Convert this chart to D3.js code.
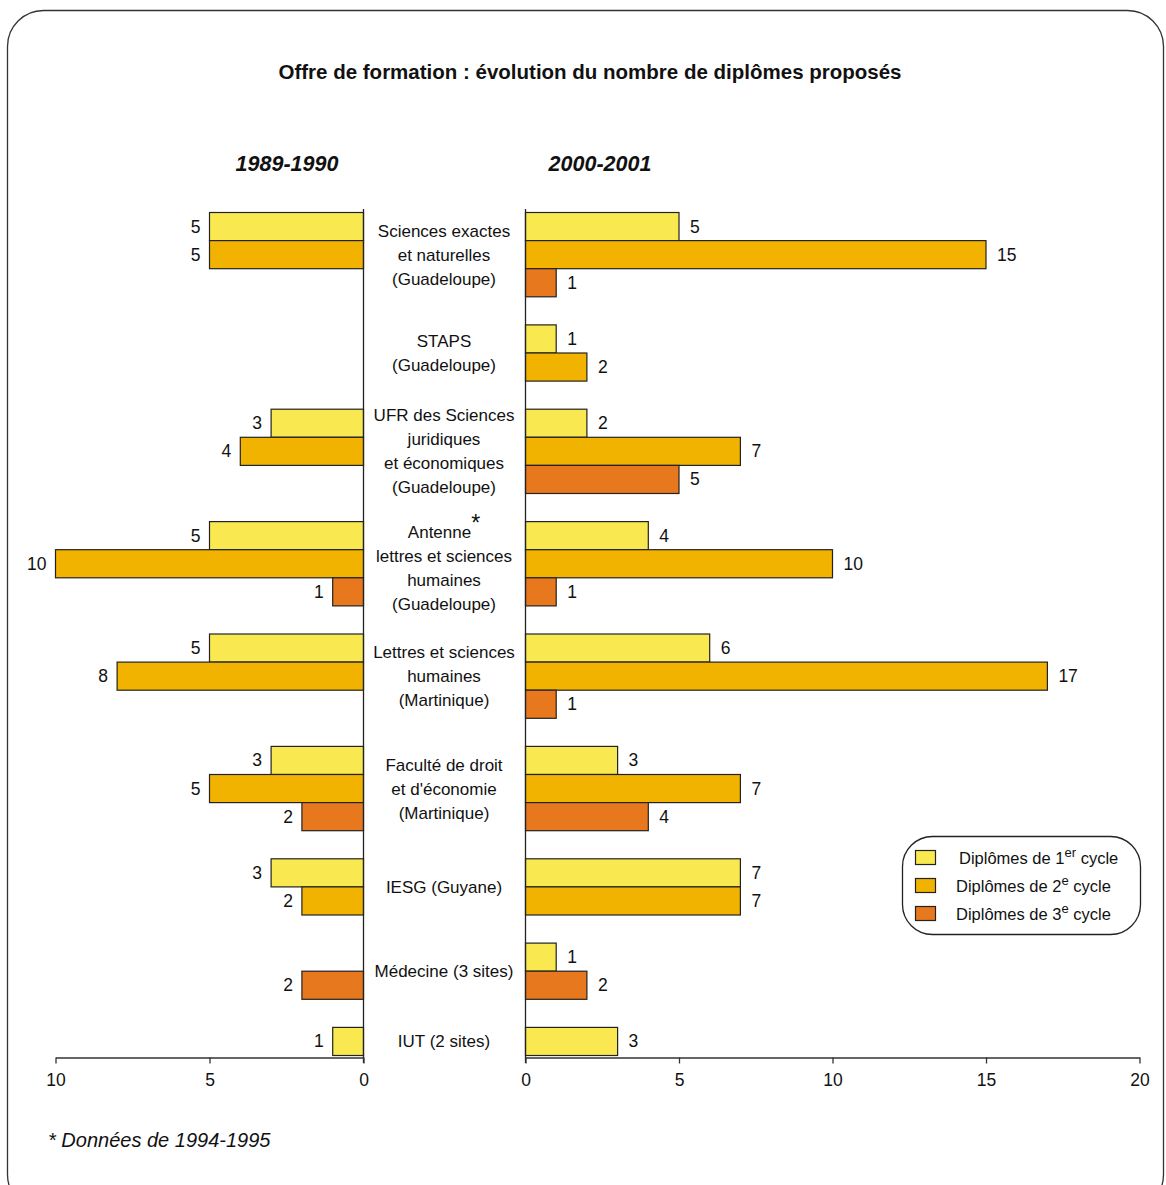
<!DOCTYPE html>
<html lang="fr">
<head>
<meta charset="utf-8">
<script src="https://cdn.jsdelivr.net/npm/d3@7"></script>
<style>
  html, body { margin: 0; padding: 0; background: #fff; }
  svg { display: block; }
  text { font-family: "Liberation Sans Narrow", "Arial Narrow", "Liberation Sans", sans-serif; fill: #111; }
</style>
</head>
<body>
<svg id="chart" width="1166" height="1185"></svg>
<script>
// Establishments (label lines) in display order
const categories = [
  ["Sciences exactes", "et naturelles", "(Guadeloupe)"],
  ["STAPS", "(Guadeloupe)"],
  ["UFR des Sciences", "juridiques", "et économiques", "(Guadeloupe)"],
  ["Antenne*", "lettres et sciences", "humaines", "(Guadeloupe)"],
  ["Lettres et sciences", "humaines", "(Martinique)"],
  ["Faculté de droit", "et d'économie", "(Martinique)"],
  ["IESG (Guyane)"],
  ["Médecine (3 sites)"],
  ["IUT (2  sites)"]
];

// Number of diplomas per cycle; null = not offered
const cycle1_1989 = [5, null, 3, 5, 5, 3, 3, null, 1];
const cycle2_1989 = [5, null, 4, 10, 8, 5, 2, null, null];
const cycle3_1989 = [null, null, null, 1, null, 2, null, 2, null];

const cycle1_2000 = [5, 1, 2, 4, 6, 3, 7, 1, 3];
const cycle2_2000 = [15, 2, 7, 10, 17, 7, 7, null, null];
const cycle3_2000 = [1, null, 5, 1, 1, 4, null, 2, null];

const periodLabels = ["1989-1990", "2000-2001"];
const leftTicks = [0, 5, 10];
const rightTicks = [0, 5, 10, 15, 20];
const cycleLabels = [["Diplômes de 1", "er", " cycle"], ["Diplômes de 2", "e", " cycle"], ["Diplômes de 3", "e", " cycle"]];
const colors = ["#F9E84F", "#F1B300", "#E8781E"];

const svg = d3.select("#chart");

// Rounded outer frame
svg.append("rect")
  .attr("x", 7.5).attr("y", 10.5).attr("width", 1156).attr("height", 1200)
  .attr("rx", 36).attr("ry", 36)
  .attr("fill", "none").attr("stroke", "#333").attr("stroke-width", 1.3);

// Title
svg.append("text").attr("x", 590).attr("y", 79).attr("text-anchor", "middle")
  .style("font-size", "20.5px").style("font-weight", "bold")
  .text("Offre de formation : évolution du nombre de diplômes proposés");

svg.append("text").attr("x", 287).attr("y", 171).attr("text-anchor", "middle")
  .style("font-size", "21.5px").style("font-weight", "bold").style("font-style", "italic")
  .text(periodLabels[0]);
svg.append("text").attr("x", 600).attr("y", 171).attr("text-anchor", "middle")
  .style("font-size", "21.5px").style("font-weight", "bold").style("font-style", "italic")
  .text(periodLabels[1]);

// Build the row slots: each establishment gets one row per offered cycle, then a gap row
const series1989 = [cycle1_1989, cycle2_1989, cycle3_1989];
const series2000 = [cycle1_2000, cycle2_2000, cycle3_2000];
const slots = [];
const bars = [];
const groups = [];
categories.forEach((lines, i) => {
  const present = [0, 1, 2].filter(c => series1989[c][i] != null || series2000[c][i] != null);
  const ids = [];
  present.forEach(c => {
    const id = `g${i}c${c}`;
    slots.push(id); ids.push(id);
    if (series1989[c][i] != null) bars.push({ id, side: "L", cycle: c, value: series1989[c][i] });
    if (series2000[c][i] != null) bars.push({ id, side: "R", cycle: c, value: series2000[c][i] });
  });
  groups.push({ lines, ids });
  if (i < categories.length - 1) slots.push(`gap${i}`);
});

const y = d3.scaleBand().domain(slots).range([212, 1055]).paddingInner(0).paddingOuter(0);
const xL = d3.scaleLinear().domain([0, 10]).range([363.5, 55.5]);
const xR = d3.scaleLinear().domain([0, 20]).range([525.5, 1139.5]);

// Bars
svg.append("g").selectAll("rect").data(bars).join("rect")
  .attr("x", d => d.side === "L" ? xL(d.value) : xR(0))
  .attr("y", d => y(d.id) + 0.5)
  .attr("width", d => d.side === "L" ? xL(0) - xL(d.value) : xR(d.value) - xR(0))
  .attr("height", y.bandwidth())
  .attr("fill", d => colors[d.cycle])
  .attr("stroke", "#222").attr("stroke-width", 1.2);

// Value labels
svg.append("g").selectAll("text").data(bars).join("text")
  .attr("x", d => d.side === "L" ? xL(d.value) - 9 : xR(d.value) + 11)
  .attr("y", d => y(d.id) + y.bandwidth() / 2 + 6.5)
  .attr("text-anchor", d => d.side === "L" ? "end" : "start")
  .style("font-size", "17.5px")
  .text(d => d.value);

// Zero lines
svg.append("line").attr("x1", xL(0)).attr("x2", xL(0)).attr("y1", 209).attr("y2", 1063)
  .attr("stroke", "#222").attr("stroke-width", 1.3);
svg.append("line").attr("x1", xR(0)).attr("x2", xR(0)).attr("y1", 209).attr("y2", 1063)
  .attr("stroke", "#222").attr("stroke-width", 1.3);

// Axes
function drawAxis(scale, ticks) {
  const g = svg.append("g").attr("transform", "translate(0,1057.5)")
    .call(d3.axisBottom(scale).tickValues(ticks).tickSize(6).tickSizeOuter(0).tickPadding(10));
  g.select(".domain").attr("stroke", "#333").attr("stroke-width", 1.3);
  g.selectAll(".tick line").attr("stroke", "#333").attr("stroke-width", 1.3);
  g.selectAll(".tick text").style("font-size", "17.5px").style("font-family", "'Liberation Sans Narrow', 'Arial Narrow', sans-serif").attr("fill", "#111");
}
drawAxis(xL, leftTicks);
drawAxis(xR, rightTicks);

// Establishment labels, centered on their group of bars
const lineH = 24;
groups.forEach((g, gi) => {
  const top = y(g.ids[0]);
  const bottom = y(g.ids[g.ids.length - 1]) + y.bandwidth();
  const cy = (top + bottom) / 2 + (gi === 3 ? 4 : 0);
  const n = g.lines.length;
  g.lines.forEach((line, k) => {
    const t = svg.append("text").attr("x", 444)
      .attr("y", cy + (k - (n - 1) / 2) * lineH + 6.5)
      .attr("text-anchor", "middle").style("font-size", "17px");
    if (line.endsWith("*")) {
      t.append("tspan").text(line.slice(0, -1));
      t.append("tspan").attr("dy", -7).style("font-size", "23px").text("*");
    } else {
      t.text(line);
    }
  });
});

// Legend
const legend = svg.append("g");
legend.append("rect").attr("x", 902.5).attr("y", 836.5).attr("width", 238).attr("height", 98)
  .attr("rx", 30).attr("ry", 30).attr("fill", "#fff").attr("stroke", "#222").attr("stroke-width", 1.3);
cycleLabels.forEach((parts, i) => {
  const ly = 858 + i * 28;
  legend.append("rect").attr("x", 915.5).attr("y", ly - 7.5).attr("width", 20).attr("height", 14)
    .attr("fill", colors[i]).attr("stroke", "#222").attr("stroke-width", 1.2);
  const t = legend.append("text").attr("x", i === 0 ? 959 : 956).attr("y", ly + 6).style("font-size", "16.5px");
  t.append("tspan").text(parts[0]);
  t.append("tspan").attr("dy", -7).style("font-size", "13px").text(parts[1]);
  t.append("tspan").attr("dy", 7).text(parts[2]);
});

// Footnote
svg.append("text").attr("x", 48).attr("y", 1147)
  .style("font-size", "20px").style("font-style", "italic")
  .style("font-family", "'Liberation Sans', Arial, sans-serif")
  .text("* Données de 1994-1995");
</script>
</body>
</html>
